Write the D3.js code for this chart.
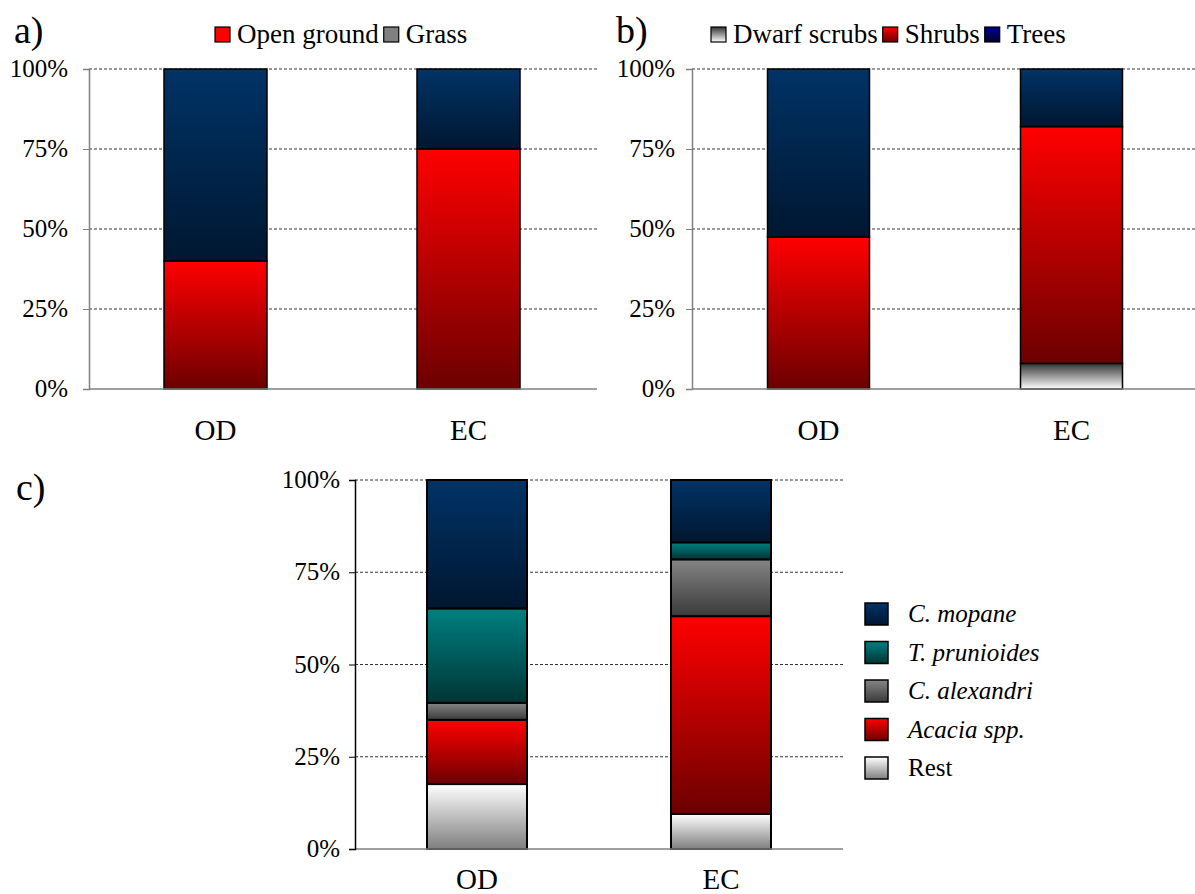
<!DOCTYPE html>
<html>
<head>
<meta charset="utf-8">
<script src="https://cdn.jsdelivr.net/npm/d3@7"></script>
<style>
  html, body { margin: 0; padding: 0; background: #fff; }
  svg text { font-family: "Liberation Serif" !important; }
</style>
</head>
<body>
<svg id="fig" width="1195" height="894"></svg>
<script>
// ---- data ----
const categories = ["OD", "EC"];
const tickValues = [0, 25, 50, 75, 100];
const tickLabels = ["0%", "25%", "50%", "75%", "100%"];

// a) ground cover
const groundKeys = ["Open ground", "Grass", "Canopy"];
const openGround = [40, 75];
const grass = [0, 0];
const canopy = [60, 25];

// b) vegetation layers
const layerKeys = ["Dwarf scrubs", "Shrubs", "Trees"];
const dwarfScrubs = [0, 8];
const shrubs = [47.5, 74];
const trees = [52.5, 18];

// c) woody species
const speciesKeys = ["Rest", "Acacia spp.", "C. alexandri", "T. prunioides", "C. mopane"];
const rest = [17.6, 9.5];
const acacia = [17.4, 53.6];
const cAlexandri = [4.6, 15.4];
const tPrunioides = [25.6, 4.6];
const cMopane = [34.8, 16.9];

const FONT = "Liberation Serif";

// ---- gradients (top colour -> bottom colour) ----
const gradients = {
  blue:  ["#003366", "#001730"],
  red:   ["#ff0000", "#6c0000"],
  teal:  ["#008080", "#003535"],
  gray:  ["#858585", "#3a3a3a"],
  rest:  ["#ffffff", "#7f7f7f"],
  dwarf: ["#333333", "#ffffff"],
  navy:  ["#000090", "#000030"]
};

const svg = d3.select("#fig");
const defs = svg.append("defs");
Object.entries(gradients).forEach(([id, [c0, c1]]) => {
  const g = defs.append("linearGradient").attr("id", "g-" + id)
    .attr("x1", 0).attr("y1", 0).attr("x2", 0).attr("y2", 1);
  g.append("stop").attr("offset", "0%").attr("stop-color", c0);
  g.append("stop").attr("offset", "100%").attr("stop-color", c1);
});

// serif text helper
function label(sel, size) {
  return sel.attr("font-family", FONT).attr("font-size", size)
    .style("font-family", FONT, "important").style("font-size", size + "px", "important");
}

function buildRows(keys, arrays) {
  return categories.map((cat, i) => {
    const row = { cat };
    keys.forEach((k, j) => row[k] = arrays[j][i]);
    return row;
  });
}

function drawPanel(p) {
  const rows = buildRows(p.keys, p.arrays);
  const stacked = d3.stack().keys(p.keys)(rows);

  const barFrac = p.barWidth / ((p.x1 - p.x0) / 2);
  const x = d3.scaleBand().domain(categories).range([p.x0, p.x1])
    .paddingInner(1 - barFrac).paddingOuter((1 - barFrac) / 2);
  const y = d3.scaleLinear().domain([0, 100]).range([p.yBot, p.yTop]);

  const g = svg.append("g");

  // dashed gridlines
  g.selectAll("line.grid").data(tickValues.filter(v => v > 0)).join("line")
    .attr("x1", p.x0).attr("x2", p.gridEnd)
    .attr("y1", d => y(d)).attr("y2", d => y(d))
    .attr("stroke", "#333").attr("stroke-width", 1)
    .attr("stroke-dasharray", "3,2");

  // stacked bars
  stacked.forEach((layer, li) => {
    g.selectAll(null).data(layer.filter(d => d[1] - d[0] > 0)).join("rect")
      .attr("x", d => x(d.data.cat))
      .attr("width", x.bandwidth())
      .attr("y", d => y(d[1]))
      .attr("height", d => y(d[0]) - y(d[1]))
      .attr("fill", "url(#g-" + p.fills[li] + ")")
      .attr("stroke", "#000").attr("stroke-width", p.barStroke);
  });

  // baseline
  g.append("line")
    .attr("x1", p.x0).attr("x2", p.gridEnd)
    .attr("y1", y(0)).attr("y2", y(0))
    .attr("stroke", "#7f7f7f").attr("stroke-width", 1.5);

  // y axis
  const yAxis = d3.axisLeft(y).tickValues(tickValues)
    .tickFormat((d, i) => tickLabels[i]).tickSize(6).tickPadding(p.tickPad);
  const ya = g.append("g").attr("transform", `translate(${p.x0},0)`).call(yAxis);
  ya.attr("font-family", FONT).attr("font-size", 25);
  ya.select(".domain").attr("stroke", p.axisColor).attr("stroke-width", 1.5);
  ya.selectAll(".tick line").attr("stroke", p.axisColor);
  label(ya.selectAll(".tick text"), 25).attr("fill", "#000").attr("dy", "0.3em");

  // category labels
  label(g.selectAll("text.cat").data(categories).join("text"), 29)
    .attr("x", d => x(d) + x.bandwidth() / 2)
    .attr("y", p.catY)
    .attr("text-anchor", "middle")
    .text(d => d);

  // panel letter
  label(g.append("text"), 38).attr("x", p.letterX).attr("y", p.letterY).text(p.letter);

  return g;
}

// horizontal legend along the top of a panel
function drawRowLegend(items, startX, baseY, box, gap) {
  let cx = startX;
  const g = svg.append("g");
  items.forEach(it => {
    g.append("rect").attr("x", cx).attr("y", baseY - box - 1)
      .attr("width", box).attr("height", box)
      .attr("fill", it.fill).attr("stroke", "#000").attr("stroke-width", 1.2);
    const t = label(g.append("text"), 27).attr("x", cx + box + 7).attr("y", baseY).text(it.label);
    cx += box + 7 + t.node().getComputedTextLength() + gap;
  });
}

// a)
drawPanel({
  keys: groundKeys, arrays: [openGround, grass, canopy],
  fills: ["red", "gray", "blue"],
  x0: 89, x1: 595, gridEnd: 597, yTop: 69, yBot: 389, barWidth: 103,
  barStroke: 1.5, axisColor: "#808080", tickPad: 15, catY: 440,
  letter: "a)", letterX: 14, letterY: 43
});
drawRowLegend([
  { label: groundKeys[0], fill: "#ff0000" },
  { label: groundKeys[1], fill: "#808080" }
], 215, 43, 15, 5);

// b)
drawPanel({
  keys: layerKeys, arrays: [dwarfScrubs, shrubs, trees],
  fills: ["dwarf", "red", "blue"],
  x0: 692, x1: 1198, gridEnd: 1195, yTop: 69, yBot: 389, barWidth: 102,
  barStroke: 1.5, axisColor: "#808080", tickPad: 11, catY: 440,
  letter: "b)", letterX: 616, letterY: 43
});
drawRowLegend([
  { label: layerKeys[0], fill: "url(#g-dwarf)" },
  { label: layerKeys[1], fill: "url(#g-red)" },
  { label: layerKeys[2], fill: "url(#g-navy)" }
], 711, 43, 15, 5);

// c)
drawPanel({
  keys: speciesKeys, arrays: [rest, acacia, cAlexandri, tPrunioides, cMopane],
  fills: ["rest", "red", "gray", "teal", "blue"],
  x0: 355, x1: 843, gridEnd: 843, yTop: 480, yBot: 849, barWidth: 100,
  barStroke: 2, axisColor: "#000", tickPad: 9, catY: 889,
  letter: "c)", letterX: 16, letterY: 500
});

// c) vertical legend, top entry first
const legendFills = { "Rest": "rest", "Acacia spp.": "red", "C. alexandri": "gray", "T. prunioides": "teal", "C. mopane": "blue" };
const legC = svg.append("g");
speciesKeys.slice().reverse().forEach((k, i) => {
  const yy = 603 + i * 38.5;
  legC.append("rect").attr("x", 865).attr("y", yy).attr("width", 23).attr("height", 22)
    .attr("fill", "url(#g-" + legendFills[k] + ")").attr("stroke", "#000").attr("stroke-width", 1.5);
  label(legC.append("text"), 25).attr("x", 908).attr("y", yy + 19)
    .attr("font-style", k === "Rest" ? "normal" : "italic")
    .style("font-style", k === "Rest" ? "normal" : "italic")
    .text(k);
});
</script>
</body>
</html>
